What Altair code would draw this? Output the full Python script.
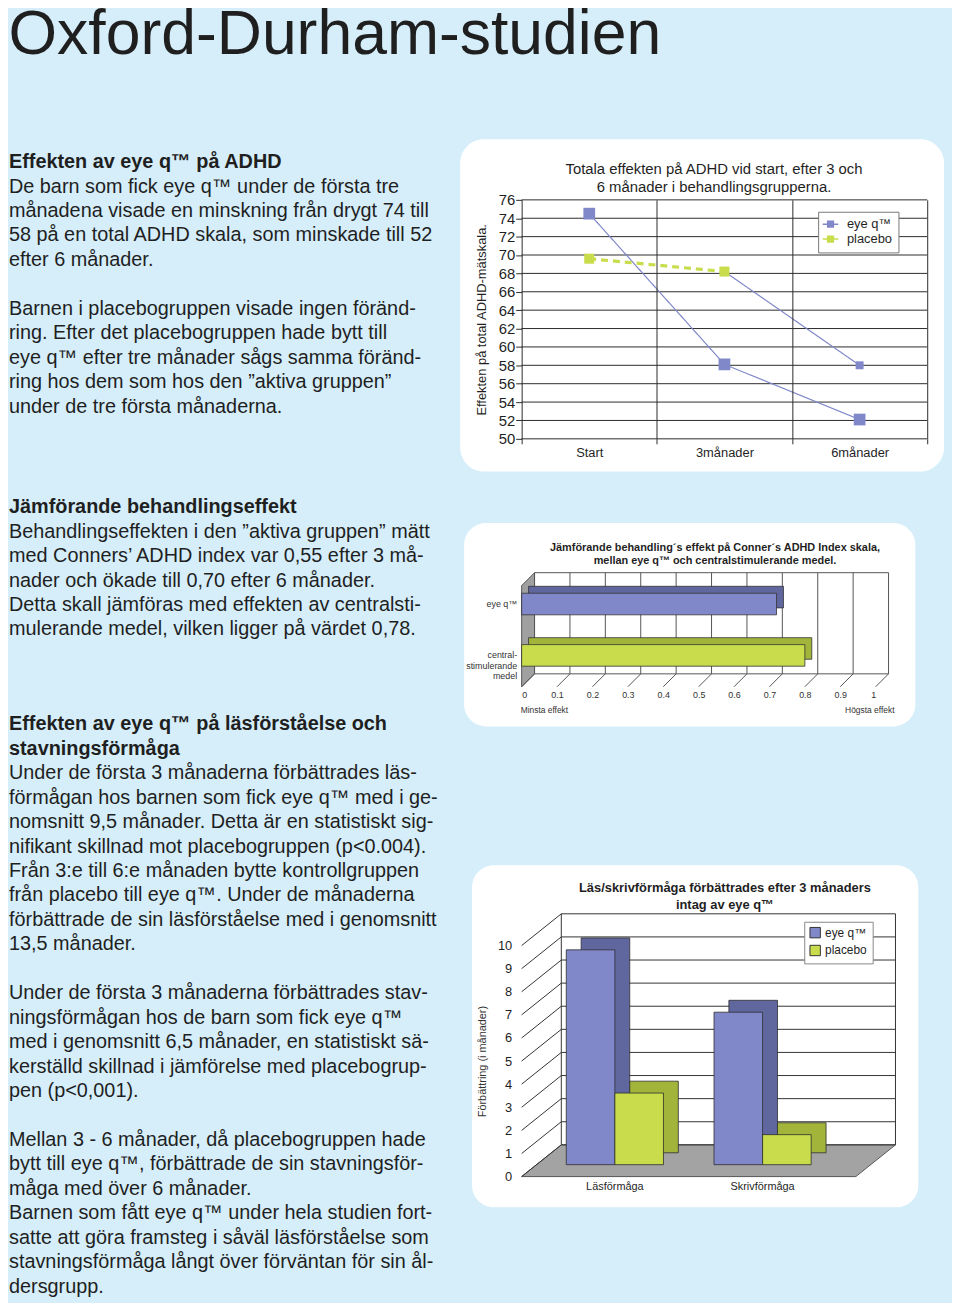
import altair as alt
import pandas as pd

FONT = "Liberation Sans"
BG = "#d5eefa"
INK = "#1f1f1f"
BLUE = "#8188c9"
BLUE_DARK = "#60679f"
GREEN = "#c9dd4c"
GREEN_DARK = "#a2b43a"
GRID = "#2a2a2a"

page_title = "Oxford-Durham-studien"

# ---------------- left column text ----------------
block1 = [
    ("Effekten av eye q™ på ADHD", True),
    ("De barn som fick eye q™ under de första tre", False),
    ("månadena visade en minskning från drygt 74 till", False),
    ("58 på en total ADHD skala, som minskade till 52", False),
    ("efter 6 månader.", False),
    ("", False),
    ("Barnen i placebogruppen visade ingen föränd-", False),
    ("ring. Efter det placebogruppen hade bytt till", False),
    ("eye q™ efter tre månader sågs samma föränd-", False),
    ("ring hos dem som hos den ”aktiva gruppen”", False),
    ("under de tre första månaderna.", False),
]
block2 = [
    ("Jämförande behandlingseffekt", True),
    ("Behandlingseffekten i den ”aktiva gruppen” mätt", False),
    ("med Conners’ ADHD index var 0,55 efter 3 må-", False),
    ("nader och ökade till 0,70 efter 6 månader.", False),
    ("Detta skall jämföras med effekten av centralsti-", False),
    ("mulerande medel, vilken ligger på värdet 0,78.", False),
]
block3 = [
    ("Effekten av eye q™ på läsförståelse och", True),
    ("stavningsförmåga", True),
    ("Under de första 3 månaderna förbättrades läs-", False),
    ("förmågan hos barnen som fick eye q™ med i ge-", False),
    ("nomsnitt 9,5 månader. Detta är en statistiskt sig-", False),
    ("nifikant skillnad mot placebogruppen (p<0.004).", False),
    ("Från 3:e till 6:e månaden bytte kontrollgruppen", False),
    ("från placebo till eye q™. Under de månaderna", False),
    ("förbättrade de sin läsförståelse med i genomsnitt", False),
    ("13,5 månader.", False),
    ("", False),
    ("Under de första 3 månaderna förbättrades stav-", False),
    ("ningsförmågan hos de barn som fick eye q™", False),
    ("med i genomsnitt 6,5 månader, en statistiskt sä-", False),
    ("kerställd skillnad i jämförelse med placebogrup-", False),
    ("pen (p<0,001).", False),
    ("", False),
    ("Mellan 3 - 6 månader, då placebogruppen hade", False),
    ("bytt till eye q™, förbättrade de sin stavningsför-", False),
    ("måga med över 6 månader.", False),
    ("Barnen som fått eye q™ under hela studien fort-", False),
    ("satte att göra framsteg i såväl läsförståelse som", False),
    ("stavningsförmåga långt över förväntan för sin ål-", False),
    ("dersgrupp.", False),
]
blocks = [block1, block2, block3]
# text view origin is aligned with the first chart's plot top
block_top = [-38, 310, 529]
LINE_H = 24.65
LEFT_W, LEFT_H = 430, 1092

rows = []
for blk, top in zip(blocks, block_top):
    for i, (txt, bold) in enumerate(blk):
        if txt:
            rows.append({"text": txt, "y": top + i * LINE_H, "bold": bold})
text_df = pd.DataFrame(rows)

ty = alt.Y("y:Q", scale=alt.Scale(domain=[0, LEFT_H], range=[0, LEFT_H], nice=False, zero=False), axis=None)
left_normal = alt.Chart(text_df).transform_filter("!datum.bold").mark_text(
    align="left", baseline="middle", fontSize=20, color=INK, font=FONT
).encode(x=alt.value(0), y=ty, text="text:N")
left_bold = alt.Chart(text_df).transform_filter("datum.bold").mark_text(
    align="left", baseline="middle", fontSize=20, fontWeight="bold", color=INK, font=FONT
).encode(x=alt.value(0), y=ty, text="text:N")
left = alt.layer(left_normal, left_bold).properties(width=LEFT_W, height=LEFT_H)

one = pd.DataFrame({"k": [0]})

# ---------------- chart 1: ADHD scale over time ----------------
months = ["Start", "3månader", "6månader"]
eyeq_adhd = [74.5, 58.1, 52.1]
placebo_adhd = [69.6, 68.2]          # Start, 3 months
switch_adhd = [68.2, 58.0]           # placebo group after switching: 3 and 6 months
groups = ["eye q™", "placebo"]
adhd_ticks = list(range(50, 78, 2))
chart1_title = ["Totala effekten på ADHD vid start, efter 3 och", "6 månader i behandlingsgrupperna."]

r1 = []
for m, v in zip(months, eyeq_adhd):
    r1.append({"month": m, "value": v, "series": "eyeq", "group": groups[0]})
for m, v in zip(months[:2], placebo_adhd):
    r1.append({"month": m, "value": v, "series": "placebo", "group": groups[1]})
for m, v in zip(months[1:], switch_adhd):
    r1.append({"month": m, "value": v, "series": "switch", "group": groups[0]})
df1 = pd.DataFrame(r1)

W1, H1 = 409, 241
x1 = alt.X("month:N", sort=months,
           scale=alt.Scale(type="band", domain=months, paddingInner=0, paddingOuter=0),
           axis=alt.Axis(title=None, labelAngle=0, tickBand="extent", grid=True, gridColor=GRID,
                         gridWidth=1, domain=False, ticks=True, tickSize=5, tickColor=GRID,
                         labelFontSize=13, labelColor=INK, labelPadding=3, zindex=1))
y1 = alt.Y("value:Q", scale=alt.Scale(domain=[50, 76], nice=False, zero=False),
           axis=alt.Axis(title="Effekten på total ADHD-mätskala.", values=adhd_ticks, grid=False,
                         domain=False, ticks=True, tickSize=6, tickColor=GRID, labelFontSize=15,
                         labelColor=INK, labelPadding=1, titleFontSize=13, titleFontWeight="normal",
                         titleColor=INK, titlePadding=10, zindex=1))
legend1 = alt.Legend(title=None, orient="none", legendX=299, legendY=12, fillColor="white",
                     strokeColor="#777", padding=6, labelFontSize=13, labelColor=INK, labelOffset=10,
                     symbolType="M-1.5,0L1.5,0M-0.55,-0.55L0.55,-0.55L0.55,0.55L-0.55,0.55Z",
                     symbolSize=110, symbolStrokeWidth=1.5, rowPadding=1)
color1 = alt.Color("group:N", scale=alt.Scale(domain=groups, range=[BLUE, GREEN]), legend=legend1)

bg1 = alt.Chart(one).mark_rect(fill="white", cornerRadius=24).encode(
    x=alt.value(-62), x2=alt.value(426), y=alt.value(-61), y2=alt.value(274))
ext1 = alt.Chart(one).mark_rect(opacity=0).encode(
    x=alt.value(-62), x2=alt.value(433), y=alt.value(-61), y2=alt.value(0))
grid1 = alt.Chart(pd.DataFrame({"value": adhd_ticks})).mark_rule(color=GRID, strokeWidth=1).encode(y=y1)
lines1 = alt.Chart(df1).mark_line().encode(
    x=x1, y=y1, color=color1, detail="series:N",
    strokeDash=alt.StrokeDash("group:N", scale=alt.Scale(domain=groups, range=[[1, 0], [7, 5]]), legend=None),
    strokeWidth=alt.StrokeWidth("group:N", scale=alt.Scale(domain=groups, range=[1.2, 3.2]), legend=None),
)
points1 = alt.Chart(df1).transform_filter(
    "!(datum.series == 'switch' && datum.month == '3månader')"
).mark_point(filled=True, shape="square", opacity=1).encode(
    x=x1, y=y1, color=color1,
    size=alt.Size("series:N", scale=alt.Scale(domain=["eyeq", "placebo", "switch"], range=[140, 64, 42]), legend=None),
)
title1 = alt.Chart(one).mark_text(fontSize=15, align="center", baseline="middle", lineHeight=19,
                                  color=INK, font=FONT).encode(
    x=alt.value(194), y=alt.value(-31.5), text=alt.value(chart1_title))
chart1 = alt.layer(bg1, ext1, grid1, lines1, points1, title1).properties(width=W1, height=H1)

# ---------------- chart 2: comparative effect (Conners) ----------------
cats2 = ["eye q™", "central-|stimulerande|medel"]
effect2 = [0.72, 0.80]
ticks2 = [round(i * 0.1, 1) for i in range(11)]
chart2_title = ["Jämförande behandling´s effekt på Conner´s ADHD Index skala,",
                "mellan eye q™ och centralstimulerande medel."]
df2 = pd.DataFrame({"label": cats2, "value": effect2})
ticks2_df = pd.DataFrame({"value": ticks2})

W2, H2 = 357, 115
x2 = alt.X("value:Q", scale=alt.Scale(domain=[0, 1], nice=False, zero=True),
           axis=alt.Axis(title=None, values=ticks2, format="~g", grid=False, domain=False, ticks=False,
                         labelFontSize=9, labelColor="#333", labelPadding=4, zindex=1))
y2 = alt.Y("label:N", sort=cats2, scale=alt.Scale(domain=cats2, paddingInner=0.58, paddingOuter=0.4),
           axis=alt.Axis(title=None, domain=False, ticks=False, labelExpr="split(datum.label, '|')",
                         labelFontSize=9, labelColor="#333", labelPadding=5, labelLineHeight=10.5, zindex=1))

WALL2 = "M-0.113,-0.774L0.113,-1L0.113,0.774L-0.113,1Z"
bg2 = alt.Chart(one).mark_rect(fill="white", cornerRadius=22).encode(
    x=alt.value(-58), x2=alt.value(397), y=alt.value(-50), y2=alt.value(155))
ext2 = alt.Chart(one).mark_rect(opacity=0).encode(
    x=alt.value(-64), x2=alt.value(397), y=alt.value(-50), y2=alt.value(0))
wall2 = alt.Chart(one).mark_point(shape=WALL2, size=13225, filled=True, fill="#a0a0a0", stroke="#555",
                                  strokeWidth=1, opacity=1).encode(x=alt.value(6.5), y=alt.value(57.5))
backv2 = alt.Chart(ticks2_df).mark_rule(color="#555", strokeWidth=1, xOffset=13).encode(
    x=x2, y=alt.value(0), y2=alt.value(102))
backtop2 = alt.Chart(one).mark_rule(color="#555", strokeWidth=1).encode(
    x=alt.value(13), x2=alt.value(W2 + 13), y=alt.value(0))
backbot2 = alt.Chart(one).mark_rule(color="#555", strokeWidth=1).encode(
    x=alt.value(13), x2=alt.value(W2 + 13), y=alt.value(102))
slant2 = alt.Chart(ticks2_df).mark_rule(color="#555", strokeWidth=1, xOffset=13, x2Offset=0).encode(
    x=x2, x2=alt.X2("value:Q"), y=alt.value(102), y2=alt.value(115))
shadow2 = alt.Chart(df2).mark_bar(stroke="#333", strokeWidth=0.8, xOffset=7, x2Offset=7, yOffset=-7,
                                  y2Offset=-7).encode(
    x=x2, y=y2, color=alt.Color("label:N", scale=alt.Scale(domain=cats2, range=[BLUE_DARK, GREEN_DARK]), legend=None))
front2 = alt.Chart(df2).mark_bar(stroke="#333", strokeWidth=0.8).encode(
    x=x2, y=y2, color=alt.Color("label:N", scale=alt.Scale(domain=cats2, range=[BLUE, GREEN]), legend=None))
title2 = alt.Chart(one).mark_text(fontSize=11, fontWeight="bold", align="center", baseline="middle",
                                  lineHeight=13, color=INK, font=FONT).encode(
    x=alt.value(195), y=alt.value(-24.5), text=alt.value(chart2_title))
minsta = alt.Chart(one).mark_text(fontSize=8.5, align="left", baseline="middle", color="#333", font=FONT).encode(
    x=alt.value(-1), y=alt.value(138), text=alt.value("Minsta effekt"))
hogsta = alt.Chart(one).mark_text(fontSize=8.5, align="right", baseline="middle", color="#333", font=FONT).encode(
    x=alt.value(376), y=alt.value(138), text=alt.value("Högsta effekt"))
chart2 = alt.layer(bg2, ext2, wall2, backv2, backtop2, backbot2, slant2, shadow2, front2, title2,
                   minsta, hogsta).resolve_scale(color="independent").properties(width=W2, height=H2)

# ---------------- chart 3: reading / spelling ----------------
skills = ["Läsförmåga", "Skrivförmåga"]
eyeq_gain = [9.3, 6.6]
placebo_gain = [3.1, 1.3]
ticks3 = list(range(0, 11))
chart3_title = ["Läs/skrivförmåga förbättrades efter 3 månaders", "intag av eye q™"]

r3 = []
for s, v in zip(skills, eyeq_gain):
    r3.append({"skill": s, "value": v, "group": groups[0]})
for s, v in zip(skills, placebo_gain):
    r3.append({"skill": s, "value": v, "group": groups[1]})
df3 = pd.DataFrame(r3)
ticks3_df = pd.DataFrame({"value": ticks3})

W3, H3 = 337, 233
DX, DY = 40, 32
x3 = alt.X("skill:N", sort=skills, scale=alt.Scale(domain=skills, paddingInner=0, paddingOuter=0.131),
           axis=alt.Axis(title=None, labelAngle=0, domain=False, ticks=False, labelFontSize=11,
                         labelColor=INK, labelPadding=4, zindex=1))
y3 = alt.Y("value:Q", scale=alt.Scale(domain=[0, 10], nice=False, zero=True),
           axis=alt.Axis(title="Förbättring (i månader)", values=ticks3, grid=False, domain=False, ticks=False,
                         labelFontSize=13, labelColor=INK, labelPadding=10, titleFontSize=11,
                         titleFontWeight="normal", titleColor="#333", titlePadding=10, zindex=1))
legend3 = alt.Legend(title=None, orient="none", legendX=285, legendY=-24, fillColor="white",
                     strokeColor="#888", padding=5, labelFontSize=12, labelColor=INK, symbolType="square",
                     symbolSize=110, symbolStrokeColor="#333", symbolStrokeWidth=1, rowPadding=2)
color3 = alt.Color("group:N", scale=alt.Scale(domain=groups, range=[BLUE, GREEN]), legend=legend3)

FLOOR3 = "M-1,0.0849L0.7878,0.0849L1,-0.0849L-0.7878,-0.0849Z"
bg3 = alt.Chart(one).mark_rect(fill="white", cornerRadius=22).encode(
    x=alt.value(-50), x2=alt.value(400), y=alt.value(-81), y2=alt.value(264))
ext3 = alt.Chart(one).mark_rect(opacity=0).encode(
    x=alt.value(-56), x2=alt.value(400), y=alt.value(-81), y2=alt.value(0))
floor3 = alt.Chart(one).mark_point(shape=FLOOR3, size=142129, filled=True, fill="#a3a3a3", stroke="#555",
                                   strokeWidth=1, opacity=1).encode(x=alt.value(188.5), y=alt.value(217))
backl3 = alt.Chart(one).mark_rule(color="#333", strokeWidth=1).encode(
    x=alt.value(DX), y=alt.value(-DY), y2=alt.value(H3 - DY))
backr3 = alt.Chart(one).mark_rule(color="#333", strokeWidth=1).encode(
    x=alt.value(W3 + DX), y=alt.value(-DY), y2=alt.value(H3 - DY))
grid3 = alt.Chart(ticks3_df).mark_rule(color="#333", strokeWidth=1, yOffset=-DY).encode(
    x=alt.value(DX), x2=alt.value(W3 + DX), y=y3)
slant3 = alt.Chart(ticks3_df).mark_rule(color="#333", strokeWidth=1, y2Offset=-DY).encode(
    x=alt.value(0), x2=alt.value(DX), y=y3, y2=alt.Y2("value:Q"))


def bar_pair(group, dx, dark):
    base = alt.Chart(df3).transform_filter(alt.datum.group == group)
    shadow = base.mark_bar(width=49, xOffset=dx + 15, yOffset=-24, y2Offset=-24, color=dark,
                           stroke="#2e2e2e", strokeWidth=0.8).encode(x=x3, y=y3)
    front = base.mark_bar(width=49, xOffset=dx, yOffset=-12, y2Offset=-12, stroke="#2e2e2e",
                          strokeWidth=0.8).encode(x=x3, y=y3, color=color3)
    return [shadow, front]


title3 = alt.Chart(one).mark_text(fontSize=13, fontWeight="bold", align="center", baseline="middle",
                                  lineHeight=17, color=INK, font=FONT).encode(
    x=alt.value(205), y=alt.value(-57.5), text=alt.value(chart3_title))
chart3 = alt.layer(bg3, ext3, floor3, backl3, backr3, grid3, slant3,
                   *bar_pair(groups[0], -24.5, BLUE_DARK), *bar_pair(groups[1], 24.5, GREEN_DARK),
                   title3).properties(width=W3, height=H3)

# ---------------- page ----------------
def indep(c):
    return c.resolve_scale(color="independent").resolve_legend(color="independent")


right = indep(alt.vconcat(indep(alt.vconcat(chart1, chart2, spacing=50)), chart3, spacing=138))
page = indep(alt.hconcat(left, right, spacing=19)).properties(
    title=alt.TitleParams(page_title, fontSize=63, fontWeight="normal", color=INK, anchor="start",
                          offset=73, font=FONT),
    padding={"top": -10, "left": 0, "right": 0, "bottom": 0},
    background=BG,
).configure(font=FONT).configure_view(stroke="transparent")

page.save("out.html", embed_options={"renderer": "svg", "actions": False})
